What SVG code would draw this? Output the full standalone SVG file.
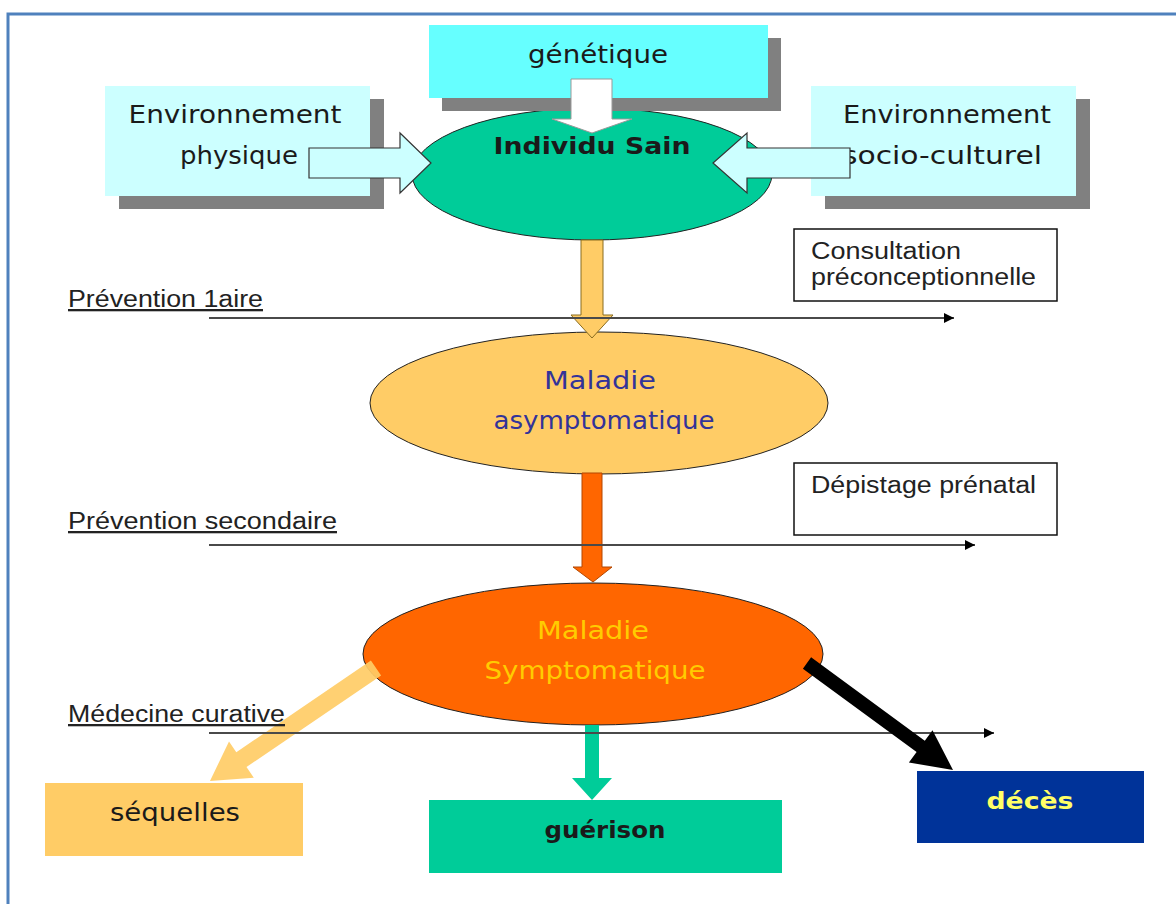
<svg xmlns="http://www.w3.org/2000/svg" width="1176" height="904" viewBox="0 0 1176 904">
<style>
.comic{font-family:"Comic Sans MS","DejaVu Sans",sans-serif;font-size:24px;fill:#1a1a1a;}
.b{font-weight:bold;font-size:23px;}
.arial{font-family:"Liberation Sans",Arial,sans-serif;font-size:23px;fill:#222;}
.u{text-decoration:underline;}
.shadow{fill:#808080;}
.envbox{fill:#CCFFFF;}
.frame{fill:#fff;stroke:#111;stroke-width:1.5;}
.hline{stroke:#4a4a4a;stroke-width:1.8;fill:none;}
.ell{stroke:#222;stroke-width:1;}
</style>
<defs>
<marker id="tri" viewBox="0 0 10 10" refX="10" refY="5" markerWidth="12" markerHeight="10" markerUnits="userSpaceOnUse" orient="auto">
<path d="M0,0 L10,5 L0,10 z" fill="#000"/>
</marker>
</defs>
<rect width="1176" height="904" fill="#fff"/>
<path d="M8,904 V14 H1176" fill="none" stroke="#4F81BD" stroke-width="3"/>

<g id="individu-sain">
<ellipse class="ell" cx="592" cy="174" rx="180" ry="66" fill="#00CC99"/>
<text class="comic b" x="592" y="154" text-anchor="middle" textLength="197" lengthAdjust="spacingAndGlyphs">Individu Sain</text>
</g>

<g id="genetique">
<rect class="shadow" x="442" y="38" width="339" height="73"/>
<rect x="429" y="25" width="339" height="73" fill="#66FFFF"/>
<text class="comic" x="598" y="63" text-anchor="middle" textLength="140" lengthAdjust="spacingAndGlyphs">génétique</text>
</g>

<g id="env-physique">
<rect class="shadow" x="119" y="99" width="265" height="110"/>
<rect class="envbox" x="105" y="86" width="265" height="110"/>
<text class="comic" x="235" y="123" text-anchor="middle" textLength="213" lengthAdjust="spacingAndGlyphs">Environnement</text>
<text class="comic" x="239" y="164" text-anchor="middle" textLength="118" lengthAdjust="spacingAndGlyphs">physique</text>
</g>

<g id="env-socio">
<rect class="shadow" x="825" y="99" width="265" height="110"/>
<rect class="envbox" x="811" y="86" width="265" height="110"/>
<text class="comic" x="947" y="123" text-anchor="middle" textLength="208" lengthAdjust="spacingAndGlyphs">Environnement</text>
<text class="comic" x="942" y="164" text-anchor="middle" textLength="200" lengthAdjust="spacingAndGlyphs">socio-culturel</text>
</g>

<g id="consultation">
<rect class="frame" x="794" y="229" width="263" height="72"/>
<text class="arial" x="811" y="259" textLength="150" lengthAdjust="spacingAndGlyphs">Consultation</text>
<text class="arial" x="811" y="285" textLength="225" lengthAdjust="spacingAndGlyphs">préconceptionnelle</text>
</g>

<g id="maladie-asymptomatique">
<ellipse class="ell" cx="599" cy="403" rx="229" ry="71" fill="#FFCC66"/>
<text class="comic" x="600" y="389" text-anchor="middle" style="fill:#333399" textLength="112" lengthAdjust="spacingAndGlyphs">Maladie</text>
<text class="comic" x="604" y="429" text-anchor="middle" style="fill:#333399" textLength="221" lengthAdjust="spacingAndGlyphs">asymptomatique</text>
</g>

<g id="depistage">
<rect class="frame" x="794" y="463" width="263" height="72"/>
<text class="arial" x="811" y="493" textLength="225" lengthAdjust="spacingAndGlyphs">Dépistage prénatal</text>
</g>

<g id="maladie-symptomatique">
<ellipse class="ell" cx="593" cy="654" rx="230" ry="71" fill="#FF6600"/>
<text class="comic" x="593" y="639" text-anchor="middle" style="fill:#FFCC00" textLength="112" lengthAdjust="spacingAndGlyphs">Maladie</text>
<text class="comic" x="595" y="679" text-anchor="middle" style="fill:#FFCC00" textLength="221" lengthAdjust="spacingAndGlyphs">Symptomatique</text>
</g>

<g id="sequelles">
<rect x="45" y="783" width="258" height="73" fill="#FFCC66"/>
<text class="comic" x="175" y="821" text-anchor="middle" textLength="130" lengthAdjust="spacingAndGlyphs">séquelles</text>
</g>

<g id="guerison">
<rect x="429" y="800" width="353" height="73" fill="#00CC99"/>
<text class="comic b" x="605" y="838" text-anchor="middle" textLength="121" lengthAdjust="spacingAndGlyphs">guérison</text>
</g>

<g id="deces">
<rect x="917" y="771" width="227" height="72" fill="#003399"/>
<text class="comic b" x="1030" y="809" text-anchor="middle" style="fill:#FFFF66" textLength="87" lengthAdjust="spacingAndGlyphs">décès</text>
</g>

<g id="connectors">
<polygon points="571,79 612,79 612,119 632,119 592,133 552,119 571,119" fill="#fff" stroke="#999" stroke-width="1"/>
<polygon points="309,148 400,148 400,133 431,163 400,193 400,178 309,178" fill="#CCFFFF" stroke="#333" stroke-width="1.2"/>
<polygon points="850,148 747,148 747,133 713,163 747,193 747,178 850,178" fill="#CCFFFF" stroke="#333" stroke-width="1.2"/>
<polygon points="581,240 603,240 603,315 613,315 592,338 571,315 581,315" fill="#FFCC66" stroke="#8a6d1f" stroke-width="1"/>
<polygon points="582,473 602,473 602,567 612,567 593,582 573,567 582,567" fill="#FF6600" stroke="#b34700" stroke-width="1"/>
<polygon points="585,725 599,725 599,778 612,778 592,800 572,778 585,778" fill="#00CC99"/>
<polygon points="381.1,675.4 246.5,767.0 253.8,777.8 210,781 229.0,741.4 236.3,752.2 370.9,660.6" fill="#FFCC66" fill-opacity="0.92"/>
<line class="hline" x1="209" y1="318" x2="954" y2="318" marker-end="url(#tri)"/>
<line class="hline" x1="209" y1="545" x2="975" y2="545" marker-end="url(#tri)"/>
<line class="hline" x1="209" y1="733" x2="994" y2="733" marker-end="url(#tri)"/>
<polygon points="811.1,657.3 924.8,740.7 932.5,730.2 953,770 908.9,762.6 916.6,752.1 802.9,668.7" fill="#000"/>
<text class="arial u" x="68" y="307" textLength="195" lengthAdjust="spacingAndGlyphs">Prévention 1aire</text>
<text class="arial u" x="68" y="529" textLength="269" lengthAdjust="spacingAndGlyphs">Prévention secondaire</text>
<text class="arial u" x="68" y="722" textLength="217" lengthAdjust="spacingAndGlyphs">Médecine curative</text>
</g>
</svg>
